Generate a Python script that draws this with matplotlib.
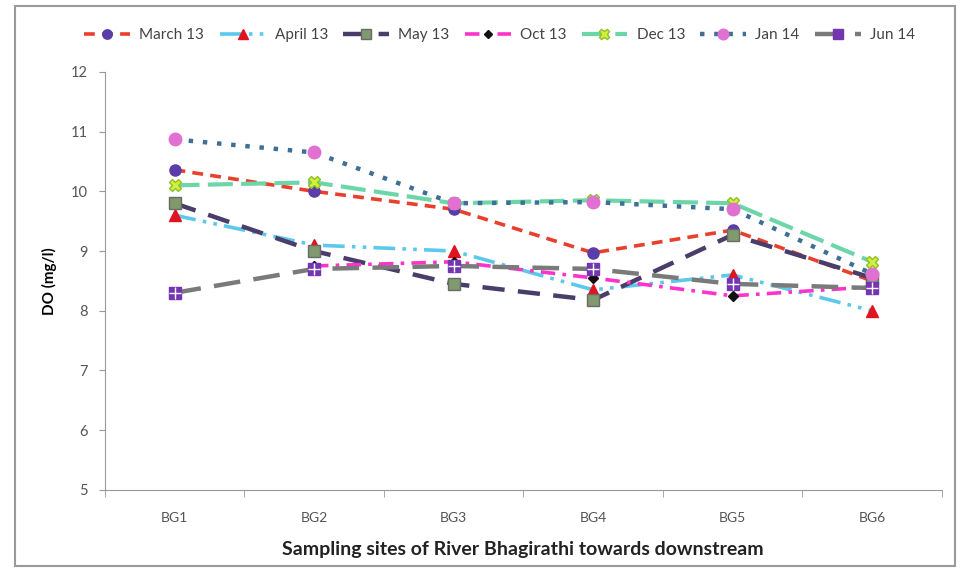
import numpy as np
import matplotlib

matplotlib.use("Agg")
import matplotlib.pyplot as plt
from matplotlib.patches import Rectangle

plt.rcParams["font.family"] = ["Lato", "DejaVu Sans"]

sites = ["BG1", "BG2", "BG3", "BG4", "BG5", "BG6"]
nan = np.nan
march13 = [10.36, 10.0, 9.7, 8.97, 9.35, 8.5]
april13 = [9.6, 9.1, 9.0, 8.35, 8.6, 8.0]
may13 = [9.8, 9.0, 8.45, 8.18, 9.27, 8.55]
oct13 = [nan, 8.75, 8.82, 8.55, 8.25, 8.4]
dec13 = [10.1, 10.15, 9.8, 9.85, 9.8, 8.82]
jan14 = [10.87, 10.65, 9.8, 9.82, 9.7, 8.62]
jun14 = [8.3, 8.7, 8.75, 8.7, 8.45, 8.38]

fig = plt.figure(figsize=(9.61, 5.75), dpi=100)
ax = fig.add_axes([0.109, 0.148, 0.871, 0.727])

# outer chart border
fig.patches.append(Rectangle((0.016, 0.015), 0.978, 0.975, transform=fig.transFigure,
                             fill=False, edgecolor="#9a9a9a", linewidth=1.5))

x = np.arange(len(sites))
lw = 2.6
ax.plot(x, march13, color="#e8402c", linestyle=(0, (3, 2)), linewidth=lw,
        marker="o", markersize=8, markerfacecolor="#5a3da8", markeredgecolor="#5a3da8", label="March 13")
ax.plot(x, april13, color="#5cc8ec", linestyle=(0, (6, 2, 1, 2, 1, 2)), linewidth=lw,
        marker="^", markersize=8, markerfacecolor="#e0141e", markeredgecolor="#e0141e", label="April 13")
ax.plot(x, may13, color="#4a3d6a", linestyle=(0, (5, 3)), linewidth=lw + 0.6,
        marker="s", markersize=8, markerfacecolor="#7f9a6c", markeredgecolor="#6a6a6a", label="May 13")
ax.plot(x, oct13, color="#ff33cc", linestyle=(0, (4, 2, 1, 2)), linewidth=lw,
        marker="D", markersize=5, markerfacecolor="#111111", markeredgecolor="#111111", label="Oct 13")
ax.plot(x, dec13, color="#6cd6a8", linestyle=(0, (6, 2)), linewidth=lw + 0.4,
        marker="X", markersize=9, markerfacecolor="#d2f03a", markeredgecolor="#8fbf2a", label="Dec 13")
ax.plot(x, jan14, color="#3f6f94", linestyle=(0, (1, 2.2)), linewidth=lw + 0.6,
        marker="o", markersize=9, markerfacecolor="#e070d2", markeredgecolor="#e070d2", label="Jan 14")
ax.plot(x, jun14, color="#7a7a7a", linestyle=(0, (6, 3)), linewidth=lw + 0.6,
        marker="s", markersize=8, markerfacecolor="#7436b0", markeredgecolor="#7436b0", label="Jun 14")
# white cross inside the Jun 14 squares
ax.plot(x, jun14, linestyle="none", marker="+", markersize=8, markeredgecolor="white",
        markeredgewidth=1)

ax.set_xlim(-0.5, len(sites) - 0.5)
ax.set_ylim(5, 12)
ax.set_yticks(range(5, 13))
ax.set_xticks(x)
ax.set_xticklabels(sites)
ax.set_xticks(np.arange(-0.5, len(sites)), minor=True)
ax.tick_params(axis="x", which="major", length=0, pad=16, labelsize=10, colors="#555555")
ax.tick_params(axis="x", which="minor", length=5, color="#999999")
ax.tick_params(axis="y", length=4, color="#999999", labelsize=10.5, labelcolor="#555555", pad=8)

for side in ["top", "right"]:
    ax.spines[side].set_visible(False)
ax.spines["left"].set_color("#999999")
ax.spines["bottom"].set_color("#999999")

ax.set_ylabel("DO (mg/l)", fontsize=11, fontweight="bold", labelpad=10)
ax.set_xlabel("Sampling sites of River Bhagirathi towards downstream",
              fontsize=14, fontweight="bold", labelpad=12, color="#222222")

fig.legend(loc="upper center", bbox_to_anchor=(0.52, 0.975), ncol=7, frameon=False,
           fontsize=11, handlelength=3.0, columnspacing=1.0, handletextpad=0.6,
           markerscale=0.85, labelcolor="#444444")

plt.savefig("out.png", dpi=100)
